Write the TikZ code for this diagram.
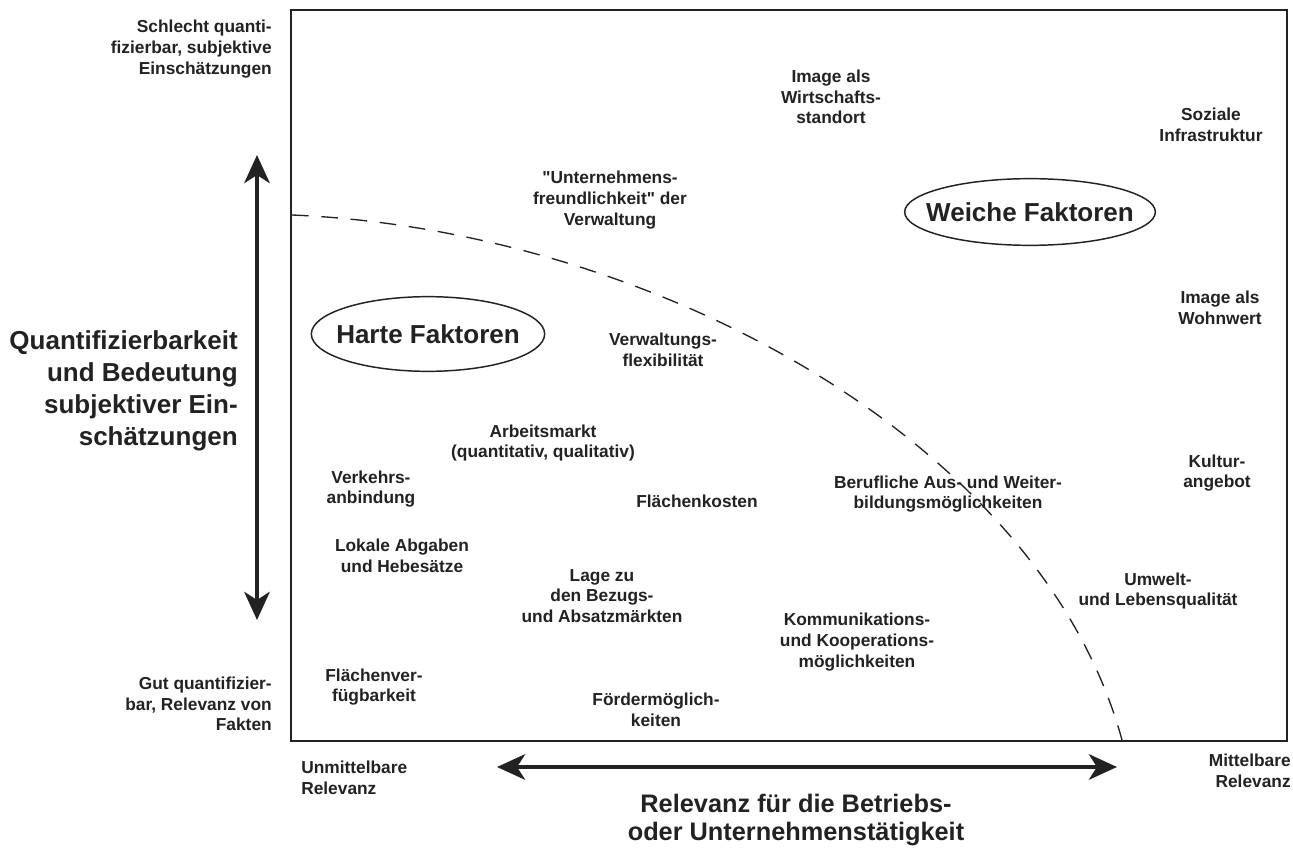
\documentclass[tikz,border=0pt]{standalone}
\usepackage{fontspec}
\setmainfont{Liberation Sans}
\usetikzlibrary{arrows.meta,shapes.geometric}
\definecolor{ink}{HTML}{222222}
\begin{document}
\begin{tikzpicture}[x=0.75pt,y=-0.75pt,
  lbl/.style={inner sep=0pt, align=center, font=\fontsize{13}{15.5}\selectfont\bfseries, text=ink},
  big/.style={inner sep=0pt, font=\fontsize{19.5}{24}\selectfont\bfseries, text=ink},
  oval/.style={ellipse, draw=ink, line width=1.1pt, inner sep=0pt, font=\fontsize{19.5}{24}\selectfont\bfseries, text=ink},
  dblarrow/.style={{Stealth[length=21pt,width=19pt,inset=6pt]}-{Stealth[length=21pt,width=19pt,inset=6pt]}, line width=3.6pt, draw=ink},
  frameline/.style={draw=ink, line width=1.6pt},
  border/.style={draw=ink, line width=1pt, dash pattern=on 12.5pt off 9.5pt}]
\useasboundingbox (0,0) rectangle (1293,852);
\fill[white] (0,0) rectangle (1293,852);
% frame
\draw[frameline] (291,10) rectangle (1287,741);
% dashed border between hard and soft factors
\coordinate (dstart) at (292,215);
\coordinate (dend) at (1122,740);
\draw[border] (dstart) .. controls (650,230) and (1040,440) .. (dend);
% axis arrows
\coordinate (vt) at (257,155);
\coordinate (vb) at (257,620);
\draw[dblarrow] (vt) -- (vb);
\coordinate (hl) at (497,767);
\coordinate (hr) at (1117,767);
\draw[dblarrow] (hl) -- (hr);
% axis labels
\node[lbl, anchor=east, align=right] (schlecht) at (272,49) {Schlecht quanti-\\fizierbar, subjektive\\Einschätzungen};
\node[lbl, anchor=east, align=right] (gut) at (272,704) {Gut quantifizier-\\bar, Relevanz von\\Fakten};
\node[big, anchor=east, align=right] (quant) at (238,391) {Quantifizierbarkeit\\und Bedeutung\\subjektiver Ein-\\schätzungen};
\node[lbl, anchor=west, align=left] (unmittel) at (301,778) {Unmittelbare\\Relevanz};
\node[lbl, anchor=east, align=right] (mittel) at (1291,771) {Mittelbare\\Relevanz};
\node[big, align=center, font=\fontsize{19}{20.5}\selectfont\bfseries] (relevanz) at (796,820) {Relevanz für die Betriebs-\\oder Unternehmenstätigkeit};
% factors
\node[lbl] (imgws) at (831,97) {Image als\\Wirtschafts-\\standort};
\node[lbl] (soz) at (1211,125) {Soziale\\Infrastruktur};
\node[lbl] (untfr) at (610,200) {\textquotedbl Unternehmens-\\freundlichkeit\textquotedbl\ der\\Verwaltung};
\node[oval, minimum width=188pt, minimum height=50pt] (weich) at (1030,212) {\makebox[0pt]{Weiche Faktoren}};
\node[oval, minimum width=175pt, minimum height=56pt] (hart) at (428,334) {\makebox[0pt]{Harte Faktoren}};
\node[lbl] (verwflex) at (663,350) {Verwaltungs-\\flexibilität};
\node[lbl] (imgwohn) at (1220,308) {Image als\\Wohnwert};
\node[lbl] (arbeit) at (543,443) {Arbeitsmarkt\\(quantitativ, qualitativ)};
\node[lbl] (verkehr) at (371,489) {Verkehrs-\\anbindung};
\node[lbl] (flkost) at (697,501) {Flächenkosten};
\node[lbl] (beruf) at (948,494) {Berufliche Aus- und Weiter-\\bildungsmöglichkeiten};
\node[lbl] (kultur) at (1217,473) {Kultur-\\angebot};
\node[lbl] (lokal) at (402,556) {Lokale Abgaben\\und Hebesätze};
\node[lbl] (lage) at (602,596) {Lage zu\\den Bezugs-\\und Absatzmärkten};
\node[lbl] (umwelt) at (1158,591) {Umwelt-\\und Lebensqualität};
\node[lbl] (komm) at (857,642) {Kommunikations-\\und Kooperations-\\möglichkeiten};
\node[lbl] (flverf) at (374,687) {Flächenver-\\fügbarkeit};
\node[lbl] (foerder) at (656,710) {Fördermöglich-\\keiten};
\end{tikzpicture}
\end{document}
